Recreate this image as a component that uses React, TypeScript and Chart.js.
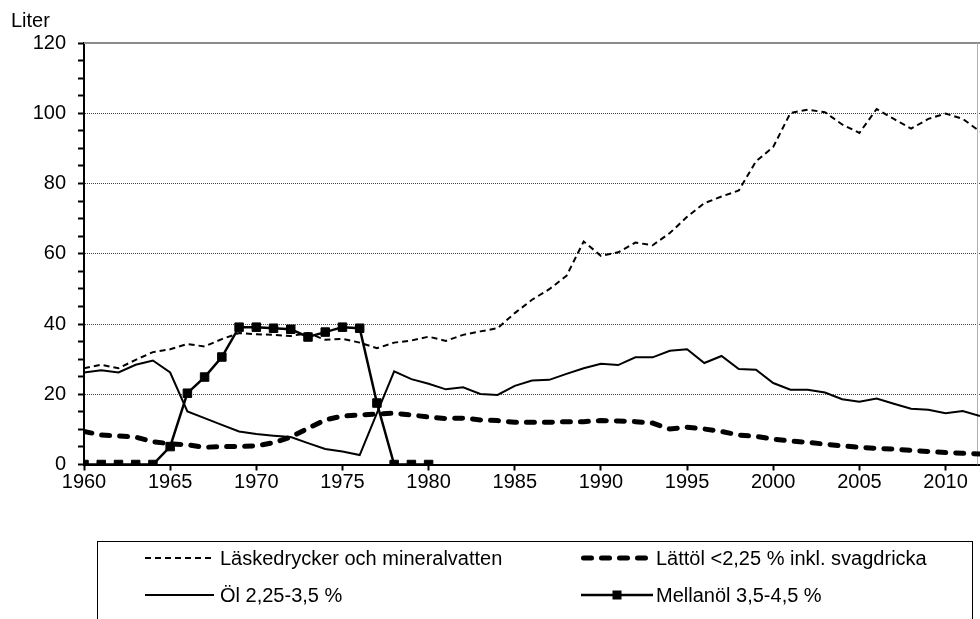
import React, { useEffect, useRef } from 'react';
import { Chart, registerables } from 'chart.js';

Chart.register(...registerables);

const FONT = '"Liberation Sans", Arial, sans-serif';

const years = [
  1960, 1961, 1962, 1963, 1964, 1965, 1966, 1967, 1968, 1969,
  1970, 1971, 1972, 1973, 1974, 1975, 1976, 1977, 1978, 1979,
  1980, 1981, 1982, 1983, 1984, 1985, 1986, 1987, 1988, 1989,
  1990, 1991, 1992, 1993, 1994, 1995, 1996, 1997, 1998, 1999,
  2000, 2001, 2002, 2003, 2004, 2005, 2006, 2007, 2008, 2009,
  2010, 2011, 2012,
];

const laskedrycker = [
  27.4, 28.4, 27.4, 29.8, 32.0, 32.8, 34.3, 33.6, 35.7, 37.4,
  37.1, 36.9, 36.6, 37.4, 35.5, 35.8, 34.7, 33.1, 34.7, 35.3,
  36.4, 35.2, 36.9, 37.9, 38.8, 43.1, 46.9, 49.9, 53.7, 63.5,
  59.4, 60.4, 63.2, 62.4, 65.9, 70.5, 74.4, 76.3, 78.0, 86.3,
  90.4, 100.1, 101.0, 100.3, 96.8, 94.4, 101.2, 98.4, 95.6, 98.4,
  99.9, 98.4, 94.8,
];

const lattol = [
  9.4, 8.4, 8.1, 7.8, 6.5, 5.9, 5.6, 4.9, 5.1, 5.1,
  5.3, 6.2, 7.8, 10.3, 12.7, 13.8, 14.1, 14.4, 14.6, 14.1,
  13.5, 13.1, 13.2, 12.7, 12.5, 12.0, 12.0, 12.0, 12.2, 12.2,
  12.5, 12.4, 12.2, 11.8, 10.1, 10.6, 10.1, 9.4, 8.4, 8.0,
  7.2, 6.7, 6.3, 5.8, 5.3, 4.9, 4.6, 4.4, 4.0, 3.7,
  3.4, 3.2, 3.0,
];

const ol = [
  26.2, 26.8, 26.2, 28.4, 29.6, 26.2, 15.1, 13.2, 11.3, 9.4,
  8.7, 8.2, 7.8, 6.1, 4.4, 3.7, 2.7, 14.6, 26.5, 24.3,
  23.0, 21.4, 22.0, 20.1, 19.8, 22.4, 23.9, 24.1, 25.8, 27.4,
  28.7, 28.3, 30.5, 30.5, 32.4, 32.8, 28.9, 30.9, 27.2, 27.0,
  23.2, 21.3, 21.3, 20.5, 18.6, 17.9, 18.8, 17.3, 15.9, 15.6,
  14.6, 15.2, 13.8,
];

const mellanolYears = [
  1960, 1961, 1962, 1963, 1964, 1965, 1966, 1967, 1968, 1969,
  1970, 1971, 1972, 1973, 1974, 1975, 1976, 1977, 1978, 1979, 1980,
];
const mellanol = [
  0, 0, 0, 0, 0, 5.1, 20.3, 24.9, 30.6, 39.1,
  39.1, 38.8, 38.5, 36.3, 37.7, 39.1, 38.8, 17.5, 0, 0, 0,
];

const seriesLabels = [
  'Läskedrycker och mineralvatten',
  'Lättöl <2,25 % inkl. svagdricka',
  'Öl 2,25-3,5 %',
  'Mellanöl 3,5-4,5 %',
];
const yAxisTitle = 'Liter';

const toXY = (xs: number[], ys: number[]) => xs.map((x, i) => ({ x, y: ys[i] }));

const decorPlugin = {
  id: 'decor',
  beforeDatasetsDraw(chart: any) {
    const { ctx, chartArea } = chart;
    const { left, right, top, bottom } = chartArea;
    ctx.save();
    ctx.strokeStyle = '#8a8a8a';
    ctx.lineWidth = 2;
    ctx.beginPath();
    ctx.moveTo(left, top);
    ctx.lineTo(right, top);
    ctx.stroke();
    ctx.lineWidth = 1;
    ctx.strokeStyle = '#b0b0b0';
    ctx.beginPath();
    ctx.moveTo(right - 2.5, top);
    ctx.lineTo(right - 2.5, bottom);
    ctx.stroke();
    ctx.restore();
  },
  afterDraw(chart: any) {
    const { ctx } = chart;
    ctx.save();
    ctx.fillStyle = '#000';
    ctx.font = `20px ${FONT}`;
    ctx.textBaseline = 'alphabetic';
    ctx.textAlign = 'left';
    ctx.fillText(yAxisTitle, 11, 27);

    // legend box
    ctx.strokeStyle = '#000';
    ctx.lineWidth = 1;
    ctx.strokeRect(97.5, 541.5, 875, 100);

    const cols = [
      { x0: 145, x1: 214, tx: 220 },
      { x0: 581, x1: 653, tx: 656 },
    ];
    const rows = [558, 595];
    const place = [
      { c: 0, r: 0 },
      { c: 1, r: 0 },
      { c: 0, r: 1 },
      { c: 1, r: 1 },
    ];
    chart.data.datasets.forEach((ds: any, i: number) => {
      const p = place[i];
      const col = cols[p.c];
      const y = rows[p.r];
      ctx.save();
      ctx.strokeStyle = ds.borderColor;
      ctx.lineWidth = ds.borderWidth;
      ctx.lineCap = ds.borderCapStyle || 'butt';
      ctx.setLineDash(ds.borderDash || []);
      ctx.beginPath();
      ctx.moveTo(col.x0 + (ds.borderCapStyle === 'round' ? ds.borderWidth / 2 : 0), y);
      ctx.lineTo(col.x1, y);
      ctx.stroke();
      ctx.restore();
      if (ds.pointRadius > 0) {
        const s = 9;
        const cx = (col.x0 + col.x1) / 2;
        ctx.fillStyle = '#000';
        ctx.fillRect(cx - s / 2, y - s / 2, s, s);
      }
      ctx.fillStyle = '#000';
      ctx.font = `20px ${FONT}`;
      ctx.textBaseline = 'middle';
      ctx.textAlign = 'left';
      ctx.fillText(ds.label, col.tx, y + 1);
    });
    ctx.restore();
  },
};

export default function App() {
  const canvasRef = useRef<HTMLCanvasElement | null>(null);

  useEffect(() => {
    document.body.style.margin = '0';
    const canvas = canvasRef.current;
    if (!canvas) return;
    const chart = new Chart(canvas, {
      type: 'line',
      data: {
        datasets: [
          {
            label: seriesLabels[0],
            data: toXY(years, laskedrycker),
            borderColor: '#000',
            backgroundColor: '#000',
            borderWidth: 2,
            borderDash: [6, 4],
            pointRadius: 0,
            tension: 0,
          },
          {
            label: seriesLabels[1],
            data: toXY(years, lattol),
            borderColor: '#000',
            backgroundColor: '#000',
            borderWidth: 5,
            borderDash: [8, 10],
            borderCapStyle: 'round',
            pointRadius: 0,
            tension: 0,
          },
          {
            label: seriesLabels[2],
            data: toXY(years, ol),
            borderColor: '#000',
            backgroundColor: '#000',
            borderWidth: 2,
            pointRadius: 0,
            tension: 0,
          },
          {
            label: seriesLabels[3],
            data: toXY(mellanolYears, mellanol),
            borderColor: '#000',
            backgroundColor: '#000',
            borderWidth: 2.5,
            pointStyle: 'rect',
            pointRadius: 6,
            pointBorderWidth: 1,
            pointBackgroundColor: '#000',
            pointBorderColor: '#000',
            tension: 0,
          },
        ] as any,
      },
      options: {
        responsive: false,
        animation: false,
        devicePixelRatio: 1,
        layout: { autoPadding: false, padding: { top: 43, left: 0, right: 0, bottom: 0 } },
        plugins: {
          legend: { display: false },
          tooltip: { enabled: false },
        },
        scales: {
          x: {
            type: 'linear',
            min: 1960,
            max: 2012,
            afterFit: (s: any) => {
              s.height = 154.5;
              s.paddingLeft = 0;
              s.paddingRight = 0;
            },
            ticks: {
              stepSize: 5,
              includeBounds: false,
              autoSkip: false,
              maxRotation: 0,
              padding: 0,
              color: '#000',
              font: { family: FONT, size: 20 },
              callback: (v: any) => String(v),
            },
            grid: {
              drawOnChartArea: false,
              drawTicks: true,
              tickLength: 6,
              tickColor: '#000',
              tickWidth: 2,
            },
            border: { color: '#000', width: 2 },
          },
          y: {
            min: 0,
            max: 120,
            afterFit: (s: any) => {
              s.width = 84;
            },
            ticks: {
              stepSize: 5,
              autoSkip: false,
              padding: 12,
              color: '#000',
              font: { family: FONT, size: 20 },
              callback: (v: any) => (Number(v) % 20 === 0 ? String(v) : ''),
            },
            grid: {
              color: (c: any) => {
                const v = c.tick ? c.tick.value : 0;
                return v % 20 === 0 && v > 0 && v < 120 ? '#444' : 'rgba(0,0,0,0)';
              },
              lineWidth: 1,
              tickLength: 6,
              tickColor: '#000',
              tickWidth: 2,
            },
            border: { color: '#000', width: 2, dash: [1, 1] },
          },
        },
      } as any,
      plugins: [decorPlugin],
    });
    return () => chart.destroy();
  }, []);

  return (
    <div style={{ position: 'absolute', left: 0, top: 0, width: 980, height: 619, background: '#fff' }}>
      <canvas ref={canvasRef} width={980} height={619} style={{ display: 'block' }} />
    </div>
  );
}
